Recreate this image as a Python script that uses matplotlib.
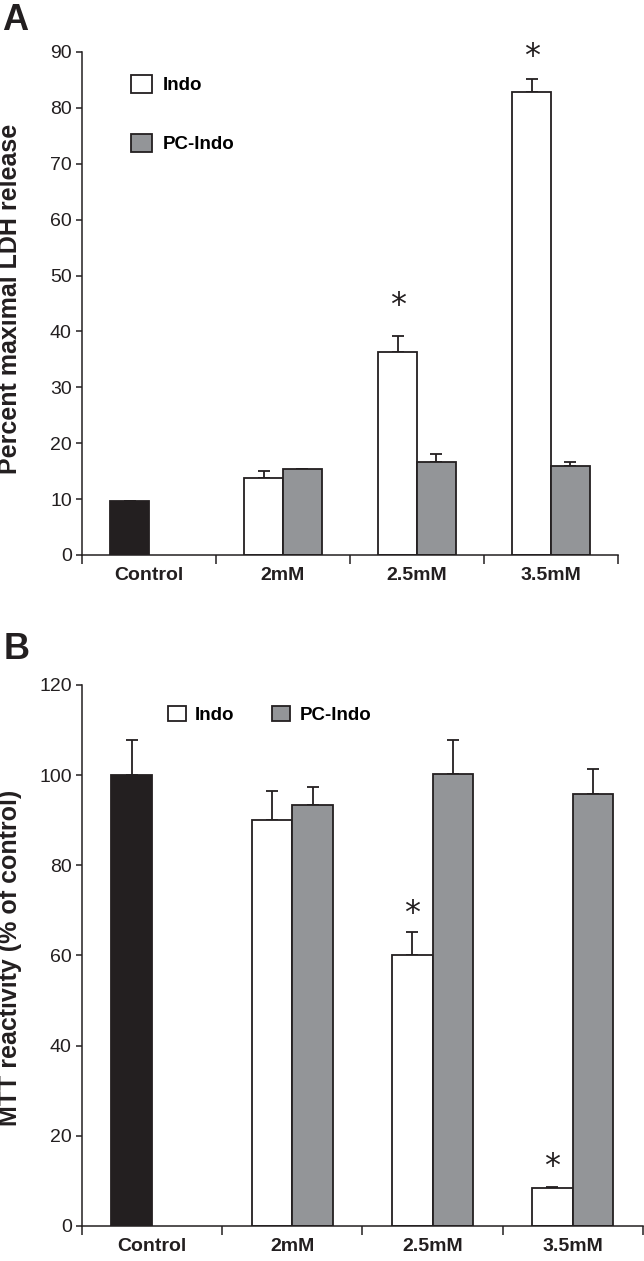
import matplotlib
matplotlib.use("Agg")
import matplotlib.pyplot as plt
from matplotlib.patches import Patch
import numpy as np

plt.rcParams['font.family'] = ['Liberation Sans', 'DejaVu Sans']

groups = ['Control', '2mM', '2.5mM', '3.5mM']

# panel A: percent maximal LDH release
ldh_control = 9.6
ldh_control_err = 0.1
ldh_indo = [13.8, 36.4, 82.8]
ldh_indo_err = [1.2, 2.8, 2.4]
ldh_pc = [15.4, 16.7, 16.0]
ldh_pc_err = [0.0, 1.3, 0.7]
ldh_stars = [None, 44.7, 89.1]

# panel B: MTT reactivity (% of control)
mtt_control = 100.0
mtt_control_err = 7.9
mtt_indo = [90.1, 60.0, 8.5]
mtt_indo_err = [6.3, 5.3, 0.2]
mtt_pc = [93.3, 100.2, 95.9]
mtt_pc_err = [4.0, 7.7, 5.5]
mtt_stars = [None, 69.3, 13.2]

BLACK = '#231f20'
GRAY = '#939598'
W = 0.29


def panel(ax, ctrl, ctrl_err, indo, indo_err, pc, pc_err, stars, ymax, ystep, ylabel):
    x = np.arange(1, len(groups))
    xc = np.array([0]) - W / 2
    xi = x - W / 2
    xp = x + W / 2
    ek = dict(fmt='none', ecolor=BLACK, elinewidth=1.3, capsize=4.5, capthick=1.3, zorder=1)
    ax.errorbar(xc, [ctrl], yerr=[[0], [ctrl_err]], **ek)
    ax.errorbar(xi, indo, yerr=[np.zeros(len(indo)), indo_err], **ek)
    ax.errorbar(xp, pc, yerr=[np.zeros(len(pc)), pc_err], **ek)
    ax.bar(xc, [ctrl], W, color=BLACK, edgecolor=BLACK, linewidth=1.3, zorder=2)
    ax.bar(xi, indo, W, color='white', edgecolor=BLACK, linewidth=1.3, zorder=2)
    ax.bar(xp, pc, W, color=GRAY, edgecolor=BLACK, linewidth=1.3, zorder=2)
    for xx, s in zip(xi, stars):
        if s is not None:
            ax.text(xx, s, '*', ha='center', va='center', fontsize=23,
                    color=BLACK, family='DejaVu Sans')

    ax.set_xlim(-0.5, len(groups) - 0.5)
    ax.set_ylim(0, ymax)
    ax.set_yticks(np.arange(0, ymax + 1, ystep))
    ax.set_xticks(np.arange(len(groups) + 1) - 0.5)
    ax.set_xticklabels([])
    ax.set_xticks(np.arange(len(groups)), minor=True)
    ax.set_xticklabels(groups, minor=True, fontweight='bold', fontsize=14)
    ax.tick_params(axis='x', which='major', direction='out', length=6.5, width=1.1, color=BLACK)
    ax.tick_params(axis='x', which='minor', length=0, pad=9, labelcolor=BLACK)
    ax.tick_params(axis='y', direction='out', length=4.3, width=1.1, labelsize=14,
                   pad=3, color=BLACK, labelcolor=BLACK)
    for side in ['top', 'right']:
        ax.spines[side].set_visible(False)
    for side in ['left', 'bottom']:
        ax.spines[side].set_linewidth(1.1)
        ax.spines[side].set_color(BLACK)
    ax.set_ylabel(ylabel, fontsize=18, fontweight='bold', color=BLACK)


fig = plt.figure(figsize=(6.44, 12.61), dpi=100)
axA = fig.add_axes([0.1273, 0.5599, 0.8323, 0.3989])
axB = fig.add_axes([0.1273, 0.0278, 0.871, 0.429])

panel(axA, ldh_control, ldh_control_err, ldh_indo, ldh_indo_err, ldh_pc, ldh_pc_err,
      ldh_stars, 90, 10, 'Percent maximal LDH release')
panel(axB, mtt_control, mtt_control_err, mtt_indo, mtt_indo_err, mtt_pc, mtt_pc_err,
      mtt_stars, 120, 20, 'MTT reactivity (% of control)')
axA.yaxis.set_label_coords(-0.112, 0.51)
axB.yaxis.set_label_coords(-0.107, 0.496)

handles = [Patch(facecolor='white', edgecolor=BLACK, linewidth=1.3, label='Indo'),
           Patch(facecolor=GRAY, edgecolor=BLACK, linewidth=1.3, label='PC-Indo')]
legA = axA.legend(handles=handles, loc='upper left', bbox_to_anchor=(131 / 644, 1 - 75 / 1261),
                  bbox_transform=fig.transFigure, frameon=False, borderpad=0, borderaxespad=0,
                  handlelength=1.1, handleheight=1.1, handletextpad=0.6, labelspacing=2.1,
                  prop={'weight': 'bold', 'size': 13.5})
legB = axB.legend(handles=handles, loc='upper left', bbox_to_anchor=(168 / 644, 1 - 706 / 1261),
                  bbox_transform=fig.transFigure, frameon=False, borderpad=0, borderaxespad=0,
                  ncol=2, handlelength=0.95, handleheight=0.85, handletextpad=0.5,
                  columnspacing=2.0, prop={'weight': 'bold', 'size': 13.5})

fig.text(0.004, 1 - 3 / 1261, 'A', fontsize=26, fontweight='bold', va='top', color=BLACK)
fig.text(0.006, 1 - 632 / 1261, 'B', fontsize=26, fontweight='bold', va='top', color=BLACK)

fig.savefig('out.png', dpi=100)
